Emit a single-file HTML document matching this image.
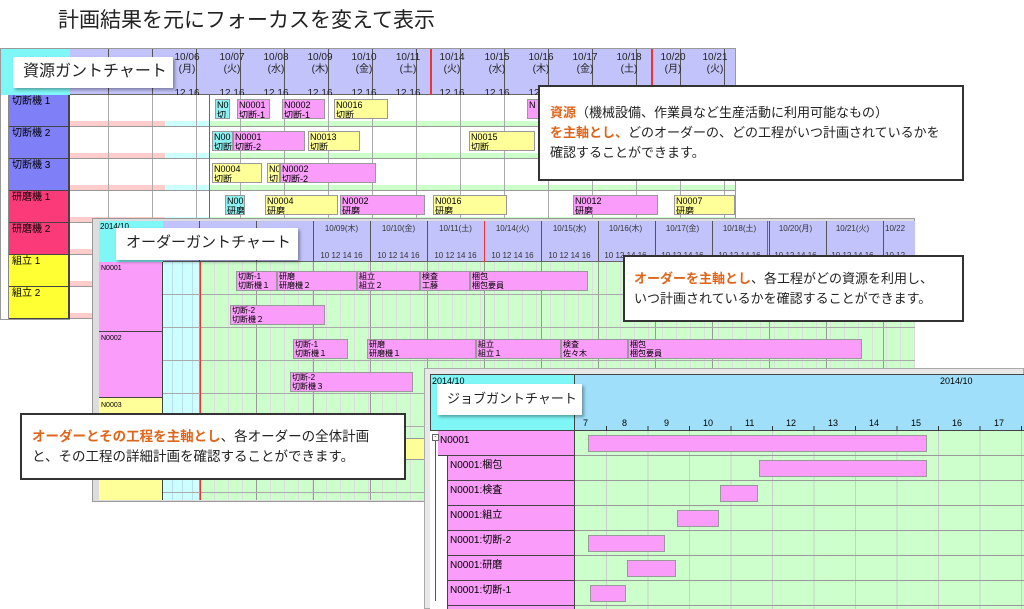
<!DOCTYPE html>
<html><head><meta charset="utf-8"><style>
*{margin:0;padding:0;box-sizing:border-box}
body{width:1024px;height:609px;overflow:hidden;background:#fff;position:relative;font-family:"Liberation Sans","Noto Sans CJK JP",sans-serif;color:#000}
div{position:absolute}
.t{font-size:9px;line-height:10px;white-space:nowrap}
.bar{border:1px solid #999;font-size:9px;line-height:10px;padding-left:1px;overflow:hidden;white-space:nowrap}
.m{background:#fa9cf9}.y{background:#ffff99}.c{background:#8ef0f0}
.lbl{background:#fff;box-shadow:2px 2px 3px rgba(0,0,0,.35);line-height:30px;padding-left:10px;white-space:nowrap;color:#222}
.call{background:#fff;border:2px solid #333;font-size:13px;line-height:20px;color:#222;white-space:nowrap}
.o{color:#e0651a;font-weight:bold}
.rh{font-size:10px;line-height:12px;text-align:center;color:#222;white-space:nowrap}
.oh{font-size:8px;line-height:9px;text-align:center;color:#333;white-space:nowrap;width:57px}
</style></head><body>

<div style="left:58px;top:7px;font-size:21px;line-height:28px;color:#222;white-space:nowrap">計画結果を元にフォーカスを変えて表示</div>

<!-- RESOURCE GANTT -->
<div style="left:0;top:48px;width:736px;height:272px;background:#fff;border:1px solid #999"></div>
<div style="left:1px;top:49px;width:69px;height:46px;background:#7ff7f7"></div>
<div style="left:70px;top:49px;width:665px;height:46px;background:#c3c3fb;border-bottom:1px solid #666"></div>
<div style="left:70px;top:49px;width:665px;height:46px;background:repeating-linear-gradient(90deg,transparent 0 43px,#555 43px 44px);background-position:-5px 0"></div>
<div style="left:430px;top:49px;width:2px;height:271px;background:#e33"></div>
<div style="left:651px;top:49px;width:2px;height:46px;background:#e33"></div>
<div class="rh" style="left:165px;top:52px;width:44px">10/06<br>(月)<br><br>12 16</div>
<div class="rh" style="left:210px;top:52px;width:44px">10/07<br>(火)<br><br>12 16</div>
<div class="rh" style="left:254px;top:52px;width:44px">10/08<br>(水)<br><br>12 16</div>
<div class="rh" style="left:298px;top:52px;width:44px">10/09<br>(木)<br><br>12 16</div>
<div class="rh" style="left:342px;top:52px;width:44px">10/10<br>(金)<br><br>12 16</div>
<div class="rh" style="left:386px;top:52px;width:44px">10/11<br>(土)<br><br>12 16</div>
<div class="rh" style="left:430px;top:52px;width:44px">10/14<br>(火)<br><br>12 16</div>
<div class="rh" style="left:475px;top:52px;width:44px">10/15<br>(水)<br><br>12 16</div>
<div class="rh" style="left:519px;top:52px;width:44px">10/16<br>(木)<br><br>12 16</div>
<div class="rh" style="left:563px;top:52px;width:44px">10/17<br>(金)<br><br>12 16</div>
<div class="rh" style="left:607px;top:52px;width:44px">10/18<br>(土)<br><br>12 16</div>
<div class="rh" style="left:651px;top:52px;width:44px">10/20<br>(月)<br><br>12 16</div>
<div class="rh" style="left:695px;top:52px;width:40px">10/21<br>(火)<br><br>12 16</div>
<!-- body -->
<div style="left:70px;top:95px;width:95px;height:225px;background:repeating-linear-gradient(180deg,#fff 0 26px,#fcc 26px 32px)"></div>
<div style="left:165px;top:95px;width:45px;height:225px;background:repeating-linear-gradient(180deg,#fff 0 26px,#cff 26px 32px)"></div>
<div style="left:210px;top:95px;width:525px;height:225px;background:repeating-linear-gradient(180deg,#fff 0 26px,#cfc 26px 32px)"></div>
<div style="left:70px;top:95px;width:665px;height:225px;background:repeating-linear-gradient(90deg,transparent 0 43px,#aaa 43px 44px);background-position:-5px 0"></div>
<div style="left:70px;top:95px;width:665px;height:225px;background:repeating-linear-gradient(180deg,transparent 0 31px,#999 31px 32px)"></div>
<div style="left:209px;top:95px;width:1px;height:225px;background:#e33"></div>
<div style="left:1px;top:95px;width:8px;height:224px;background:#fff;border-right:1px solid #888"></div>
<div style="left:9px;top:95px;width:61px;height:96px;background:#7f7ff7"></div>
<div style="left:9px;top:191px;width:61px;height:64px;background:#fb3a7a"></div>
<div style="left:9px;top:255px;width:61px;height:64px;background:#ffff33"></div>
<div style="left:9px;top:95px;width:61px;height:224px;background:repeating-linear-gradient(180deg,transparent 0 31px,#444 31px 32px);border-right:2px solid #444"></div>
<div class="t" style="left:12px;top:97px;font-size:10px">切断機 1</div>
<div class="t" style="left:12px;top:129px;font-size:10px">切断機 2</div>
<div class="t" style="left:12px;top:161px;font-size:10px">切断機 3</div>
<div class="t" style="left:12px;top:193px;font-size:10px">研磨機 1</div>
<div class="t" style="left:12px;top:225px;font-size:10px">研磨機 2</div>
<div class="t" style="left:12px;top:257px;font-size:10px">組立 1</div>
<div class="t" style="left:12px;top:289px;font-size:10px">組立 2</div>
<!-- resource bars -->
<div class="bar c" style="left:215px;top:99px;width:15px;height:20px">N0<br>切</div>
<div class="bar m" style="left:237px;top:99px;width:33px;height:20px">N0001<br>切断-1</div>
<div class="bar m" style="left:282px;top:99px;width:43px;height:20px">N0002<br>切断-1</div>
<div class="bar y" style="left:334px;top:99px;width:54px;height:20px">N0016<br>切断</div>
<div class="bar m" style="left:527px;top:99px;width:12px;height:20px">N</div>
<div class="bar c" style="left:212px;top:131px;width:21px;height:20px">N00<br>切断</div>
<div class="bar m" style="left:233px;top:131px;width:72px;height:20px">N0001<br>切断-2</div>
<div class="bar y" style="left:308px;top:131px;width:52px;height:20px">N0013<br>切断</div>
<div class="bar y" style="left:469px;top:131px;width:66px;height:20px">N0015<br>切断</div>
<div class="bar y" style="left:212px;top:163px;width:50px;height:20px">N0004<br>切断</div>
<div class="bar y" style="left:267px;top:163px;width:13px;height:20px">N0<br>切</div>
<div class="bar m" style="left:280px;top:163px;width:96px;height:20px">N0002<br>切断-2</div>
<div class="bar c" style="left:225px;top:195px;width:20px;height:20px">N0010<br>研磨</div>
<div class="bar y" style="left:265px;top:195px;width:73px;height:20px">N0004<br>研磨</div>
<div class="bar m" style="left:340px;top:195px;width:85px;height:20px">N0002<br>研磨</div>
<div class="bar y" style="left:433px;top:195px;width:74px;height:20px">N0016<br>研磨</div>
<div class="bar m" style="left:573px;top:195px;width:85px;height:20px">N0012<br>研磨</div>
<div class="bar y" style="left:674px;top:195px;width:61px;height:20px">N0007<br>研磨</div>
<div class="lbl" style="left:13px;top:57px;width:160px;height:31px;font-size:16px">資源ガントチャート</div>

<!-- ORDER GANTT -->
<div style="left:92px;top:218px;width:823px;height:284px;background:#ddd;border:1px solid #999"></div>
<div style="left:99px;top:221px;width:64px;height:41px;background:#7ff7f7"></div>
<div style="left:163px;top:221px;width:752px;height:41px;background:#c3c3fb;border-bottom:1px solid #666"></div>
<div style="left:143px;top:221px;width:772px;height:41px;background:repeating-linear-gradient(90deg,transparent 0 56px,#555 56px 57px)"></div>
<div class="t" style="left:100px;top:222px;font-size:8px">2014/10</div>
<div class="oh" style="left:313px;top:224px">10/09(木)<br><br><br>10 12 14 16</div>
<div class="oh" style="left:370px;top:224px">10/10(金)<br><br><br>10 12 14 16</div>
<div class="oh" style="left:427px;top:224px">10/11(土)<br><br><br>10 12 14 16</div>
<div class="oh" style="left:484px;top:224px">10/14(火)<br><br><br>10 12 14 16</div>
<div class="oh" style="left:541px;top:224px">10/15(水)<br><br><br>10 12 14 16</div>
<div class="oh" style="left:597px;top:224px">10/16(木)<br><br><br>10 12 14 16</div>
<div class="oh" style="left:654px;top:224px">10/17(金)<br><br><br>10 12 14 16</div>
<div class="oh" style="left:711px;top:224px">10/18(土)<br><br><br>10 12 14 16</div>
<div class="oh" style="left:767px;top:224px">10/20(月)<br><br><br>10 12 14 16</div>
<div class="oh" style="left:824px;top:224px">10/21(火)<br><br><br>10 12 14 16</div>
<div class="oh" style="left:881px;top:224px;width:34px;overflow:hidden;text-align:left;padding-left:4px">10/22<br><br><br>10 12</div>
<div style="left:484px;top:221px;width:1px;height:279px;background:#e33"></div>
<div style="left:767px;top:221px;width:1px;height:41px;background:#e33"></div>
<!-- body -->
<div style="left:163px;top:262px;width:38px;height:238px;background:#cff;background-image:repeating-linear-gradient(90deg,transparent 0 9px,#bde 9px 10px)"></div>
<div style="left:201px;top:262px;width:714px;height:238px;background:#cfc"></div>
<div style="left:201px;top:262px;width:714px;height:238px;background:repeating-linear-gradient(90deg,transparent 0 13px,#ddd 13px 14px)"></div>
<div style="left:143px;top:262px;width:772px;height:238px;background:repeating-linear-gradient(90deg,transparent 0 56px,#999 56px 57px)"></div>
<div style="left:163px;top:262px;width:752px;height:238px;background:repeating-linear-gradient(180deg,transparent 0 32px,#aaa 32px 33px)"></div>
<div style="left:200px;top:262px;width:1px;height:238px;background:#e33"></div>
<div style="left:99px;top:262px;width:64px;height:70px;background:#fa9cf9;border-bottom:1px solid #444"></div>
<div style="left:99px;top:332px;width:64px;height:66px;background:#fa9cf9;border-bottom:1px solid #444"></div>
<div style="left:99px;top:398px;width:64px;height:102px;background:#ffff99"></div>
<div style="left:162px;top:262px;width:1px;height:238px;background:#444"></div>
<div class="t" style="left:101px;top:264px;font-size:7px">N0001</div>
<div class="t" style="left:101px;top:334px;font-size:7px">N0002</div>
<div class="t" style="left:101px;top:401px;font-size:7px">N0003</div>
<div class="bar m" style="left:236px;top:271px;width:41px;height:20px;font-size:8px;line-height:9px">切断-1<br>切断機１</div>
<div class="bar m" style="left:277px;top:271px;width:80px;height:20px;font-size:8px;line-height:9px">研磨<br>研磨機２</div>
<div class="bar m" style="left:357px;top:271px;width:63px;height:20px;font-size:8px;line-height:9px">組立<br>組立２</div>
<div class="bar m" style="left:420px;top:271px;width:50px;height:20px;font-size:8px;line-height:9px">検査<br>工藤</div>
<div class="bar m" style="left:470px;top:271px;width:118px;height:20px;font-size:8px;line-height:9px">梱包<br>梱包要員</div>
<div class="bar m" style="left:230px;top:305px;width:95px;height:20px;font-size:8px;line-height:9px">切断-2<br>切断機２</div>
<div class="bar m" style="left:293px;top:339px;width:55px;height:20px;font-size:8px;line-height:9px">切断-1<br>切断機１</div>
<div class="bar m" style="left:367px;top:339px;width:109px;height:20px;font-size:8px;line-height:9px">研磨<br>研磨機１</div>
<div class="bar m" style="left:476px;top:339px;width:85px;height:20px;font-size:8px;line-height:9px">組立<br>組立１</div>
<div class="bar m" style="left:561px;top:339px;width:67px;height:20px;font-size:8px;line-height:9px">検査<br>佐々木</div>
<div class="bar m" style="left:628px;top:339px;width:234px;height:20px;font-size:8px;line-height:9px">梱包<br>梱包要員</div>
<div class="bar m" style="left:290px;top:372px;width:123px;height:20px;font-size:8px;line-height:9px">切断-2<br>切断機３</div>
<div class="bar y" style="left:405px;top:438px;width:22px;height:22px"></div>
<div class="lbl" style="left:116px;top:228px;width:182px;height:32px;font-size:15px">オーダーガントチャート</div>

<!-- JOB GANTT -->
<div style="left:424px;top:368px;width:600px;height:241px;background:#e8e8e8;border:1px solid #aaa"></div>
<div style="left:430px;top:374px;width:145px;height:57px;background:#7ff7f7;border:1px solid #444"></div>
<div style="left:575px;top:374px;width:449px;height:57px;background:#9fdffa;border-top:1px solid #444;border-bottom:1px solid #444"></div>
<div class="t" style="left:432px;top:376px;font-size:9px">2014/10</div>
<div class="t" style="left:940px;top:376px;font-size:9px">2014/10</div>
<div class="t" style="left:583px;top:418px;font-size:9px">7</div>
<div class="t" style="left:622px;top:418px;font-size:9px">8</div>
<div class="t" style="left:664px;top:418px;font-size:9px">9</div>
<div class="t" style="left:703px;top:418px;font-size:9px">10</div>
<div class="t" style="left:745px;top:418px;font-size:9px">11</div>
<div class="t" style="left:786px;top:418px;font-size:9px">12</div>
<div class="t" style="left:828px;top:418px;font-size:9px">13</div>
<div class="t" style="left:869px;top:418px;font-size:9px">14</div>
<div class="t" style="left:911px;top:418px;font-size:9px">15</div>
<div class="t" style="left:952px;top:418px;font-size:9px">16</div>
<div class="t" style="left:994px;top:418px;font-size:9px">17</div>
<div style="left:575px;top:426px;width:449px;height:5px;background:repeating-linear-gradient(90deg,transparent 0 31px,#333 31px 32px,transparent 32px 41.5px)"></div>
<div style="left:575px;top:431px;width:449px;height:178px;background:#cfc"></div>
<div style="left:575px;top:431px;width:449px;height:178px;background:repeating-linear-gradient(90deg,transparent 0 31px,#ccc 31px 32px,transparent 32px 41.5px)"></div>
<div style="left:575px;top:431px;width:449px;height:178px;background:repeating-linear-gradient(180deg,transparent 0 24px,#999 24px 25px)"></div>
<div style="left:430px;top:431px;width:145px;height:178px;background:#fff"></div>
<div style="left:438px;top:431px;width:137px;height:25px;background:#fa9cf9;border-bottom:1px solid #444"></div>
<div style="left:447px;top:456px;width:128px;height:153px;background:#fa9cf9;background-image:repeating-linear-gradient(180deg,transparent 0 24px,#444 24px 25px);border-left:1px solid #444"></div>
<div style="left:574px;top:431px;width:1px;height:178px;background:#444"></div>
<div style="left:432px;top:434px;width:7px;height:7px;border:1px solid #666;font-size:6px;line-height:5px;text-align:center">-</div>
<div style="left:435px;top:441px;width:1px;height:160px;background:#555"></div>
<div class="t" style="left:440px;top:435px;font-size:10px;line-height:12px">N0001</div>
<div class="t" style="left:450px;top:460px;font-size:10px;line-height:12px">N0001:梱包</div>
<div class="t" style="left:450px;top:485px;font-size:10px;line-height:12px">N0001:検査</div>
<div class="t" style="left:450px;top:510px;font-size:10px;line-height:12px">N0001:組立</div>
<div class="t" style="left:450px;top:535px;font-size:10px;line-height:12px">N0001:切断-2</div>
<div class="t" style="left:450px;top:560px;font-size:10px;line-height:12px">N0001:研磨</div>
<div class="t" style="left:450px;top:585px;font-size:10px;line-height:12px">N0001:切断-1</div>
<div class="bar m" style="left:588px;top:435px;width:339px;height:17px"></div>
<div class="bar m" style="left:759px;top:460px;width:168px;height:17px"></div>
<div class="bar m" style="left:720px;top:485px;width:38px;height:17px"></div>
<div class="bar m" style="left:677px;top:510px;width:42px;height:17px"></div>
<div class="bar m" style="left:588px;top:535px;width:77px;height:17px"></div>
<div class="bar m" style="left:627px;top:560px;width:49px;height:17px"></div>
<div class="bar m" style="left:590px;top:585px;width:36px;height:17px"></div>
<div class="lbl" style="left:437px;top:384px;width:145px;height:31px;font-size:13px">ジョブガントチャート</div>

<!-- CALLOUTS -->
<div class="call" style="left:538px;top:85px;width:426px;height:96px;padding:16px 0 0 10px"><span class="o">資源</span>（機械設備、作業員など生産活動に利用可能なもの）<br><span class="o">を主軸とし、</span>どのオーダーの、どの工程がいつ計画されているかを<br>確認することができます。</div>
<div class="call" style="left:623px;top:255px;width:341px;height:67px;padding:12px 0 0 9px"><span class="o">オーダーを主軸とし</span>、各工程がどの資源を利用し、<br>いつ計画されているかを確認することができます。</div>
<div class="call" style="left:20px;top:413px;width:386px;height:67px;padding:12px 0 0 10px;font-size:13.5px"><span class="o">オーダーとその工程を主軸とし</span>、各オーダーの全体計画<br>と、その工程の詳細計画を確認することができます。</div>
</body></html>
